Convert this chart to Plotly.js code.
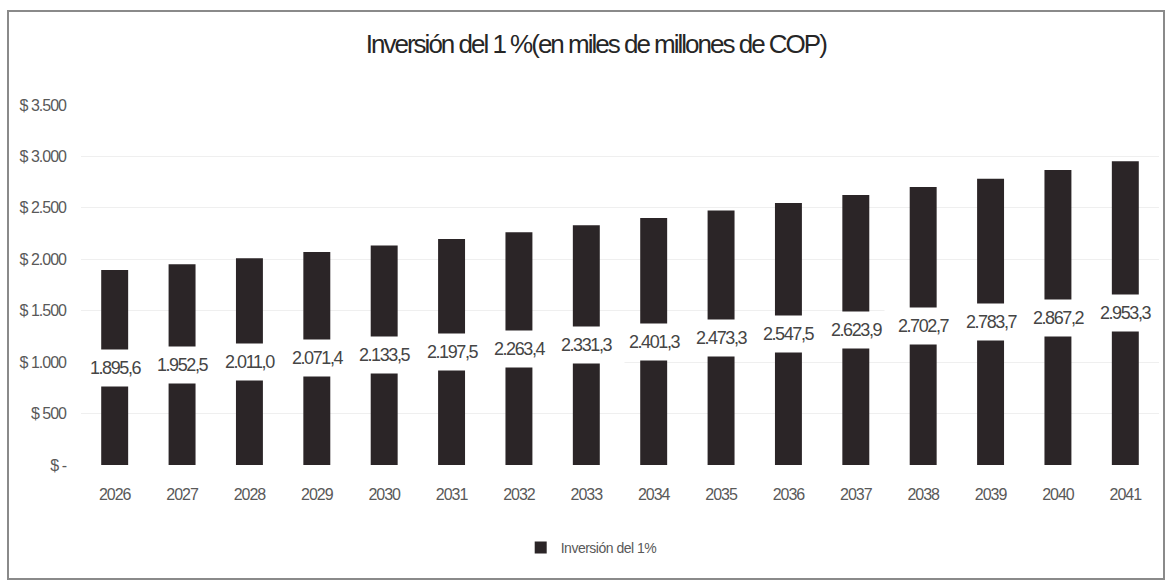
<!DOCTYPE html>
<html>
<head>
<meta charset="utf-8">
<script src="https://cdn.plot.ly/plotly-3.0.1.min.js"></script>
<style>
  html, body { margin: 0; padding: 0; background: #fff; }
  #wrap { position: relative; width: 1166px; height: 587px; }
  #chart { position: absolute; left: 0; top: 0; width: 1166px; height: 587px; }
  #frame { position: absolute; left: 7px; top: 10px; width: 1154px; height: 566px;
           border: 2px solid #8a8a8a; pointer-events: none; }
  #chart .gtitle { letter-spacing: -2px; }
  #chart .xtick text { letter-spacing: -1px; }
  #chart .ytick text { letter-spacing: -1px; }
  #chart .annotation-text { letter-spacing: -1.4px; }
  #chart .legendtext { letter-spacing: -0.5px; }
</style>
</head>
<body>
<div id="wrap">
  <div id="chart"></div>
  <div id="frame"></div>
</div>
<script>
const years = [2026, 2027, 2028, 2029, 2030, 2031, 2032, 2033, 2034, 2035, 2036, 2037, 2038, 2039, 2040, 2041];
const inversion = [1895.6, 1952.5, 2011.0, 2071.4, 2133.5, 2197.5, 2263.4, 2331.3, 2401.3, 2473.3, 2547.5, 2623.9, 2702.7, 2783.7, 2867.2, 2953.3];
const yTickVals = [0, 500, 1000, 1500, 2000, 2500, 3000, 3500];
const yTickText = ['$ -', '$ 500', '$ 1.000', '$ 1.500', '$ 2.000', '$ 2.500', '$ 3.000', '$ 3.500'];
const seriesName = 'Inversión del 1%';
const chartTitle = 'Inversión del 1 %(en miles de millones de COP)';

function fmt(v) {
  const parts = v.toFixed(1).split('.');
  const intPart = parts[0].replace(/\B(?=(\d{3})+(?!\d))/g, '.');
  return intPart + ',' + parts[1];
}

const FONT = '"Liberation Sans", Arial, sans-serif';

const trace = {
  type: 'bar',
  x: years,
  y: inversion,
  name: seriesName,
  marker: { color: '#2b2527', line: { width: 0 } },
  width: 0.4,
  showlegend: true,
  hoverinfo: 'x+y'
};

const annotations = years.map((yr, i) => ({
  x: yr,
  y: inversion[i] / 2,
  xref: 'x',
  yref: 'y',
  text: fmt(inversion[i]),
  showarrow: false,
  bgcolor: '#ffffff',
  borderpad: 8,
  font: { family: FONT, size: 18, color: '#454545' }
}));

const layout = {
  width: 1166,
  height: 587,
  margin: { l: 81, r: 7, t: 105, b: 122 },
  paper_bgcolor: '#ffffff',
  plot_bgcolor: '#ffffff',
  font: { family: FONT, color: '#595959' },
  title: {
    text: chartTitle,
    x: 0.511,
    xref: 'container',
    xanchor: 'center',
    y: 0.925,
    yref: 'container',
    yanchor: 'middle',
    font: { family: FONT, size: 26, color: '#262626' }
  },
  xaxis: {
    type: 'linear',
    range: [years[0] - 0.5, years[years.length - 1] + 0.5],
    tickvals: years,
    ticktext: years.map(String),
    showgrid: false,
    showline: false,
    zeroline: false,
    ticks: '',
    ticklabelstandoff: 18,
    tickfont: { family: FONT, size: 16, color: '#595959' }
  },
  yaxis: {
    range: [0, 3500],
    tickvals: yTickVals,
    ticktext: yTickText,
    showgrid: true,
    gridcolor: '#efefef',
    gridwidth: 1,
    zeroline: false,
    showline: false,
    ticks: '',
    ticklabelstandoff: 14,
    tickfont: { family: FONT, size: 16, color: '#595959' }
  },
  showlegend: true,
  legend: {
    orientation: 'h',
    x: 0.477,
    xanchor: 'center',
    y: -0.23,
    yanchor: 'middle',
    font: { family: FONT, size: 14, color: '#595959' }
  },
  annotations: annotations
};

Plotly.newPlot('chart', [trace], layout, { staticPlot: true, displayModeBar: false });
</script>
</body>
</html>
